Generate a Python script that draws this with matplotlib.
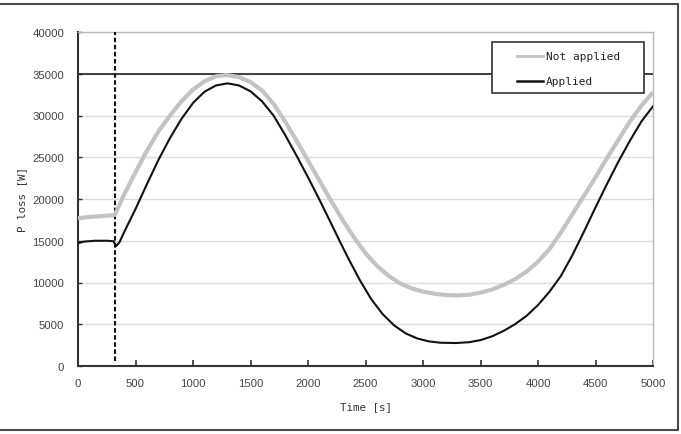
import matplotlib
matplotlib.use("Agg")
import matplotlib.pyplot as plt
from matplotlib.patches import Rectangle
from matplotlib.lines import Line2D

# ---- data ----
t_not = [0, 100, 200, 300, 320, 400, 500, 600, 700, 800, 900, 1000, 1100, 1200,
         1290, 1400, 1500, 1600, 1700, 1800, 1900, 2000, 2100, 2200, 2300, 2400,
         2500, 2600, 2700, 2800, 2900, 3000, 3100, 3200, 3287, 3400, 3500, 3600,
         3700, 3800, 3900, 4000, 4100, 4200, 4300, 4400, 4500, 4600, 4700, 4800,
         4900, 5000]
p_not = [17700, 17850, 17950, 18050, 18100, 20500, 23200, 25800, 28100, 30000,
         31700, 33100, 34100, 34700, 34850, 34600, 34000, 33000, 31400, 29300,
         27000, 24600, 22200, 19800, 17500, 15400, 13500, 12000, 10800, 9900,
         9300, 8900, 8650, 8500, 8450, 8530, 8780, 9160, 9700, 10400, 11300,
         12500, 14000, 16000, 18200, 20400, 22600, 24900, 27100, 29300, 31200,
         32800]

t_app = [0, 50, 150, 250, 310, 330, 360, 400, 500, 600, 700, 800, 900, 1000,
         1100, 1200, 1300, 1400, 1500, 1600, 1700, 1800, 1900, 2000, 2100, 2200,
         2274, 2350, 2450, 2550, 2650, 2750, 2850, 2950, 3050, 3150, 3287, 3400,
         3500, 3600, 3700, 3800, 3900, 4000, 4100, 4200, 4300, 4400, 4500, 4600,
         4700, 4800, 4900, 5000]
p_app = [14700, 14900, 15000, 15000, 14950, 14350, 14800, 16000, 18800, 21800,
         24700, 27300, 29600, 31500, 32850, 33600, 33850, 33600, 32900, 31700,
         30000, 27700, 25200, 22600, 19900, 17100, 15000, 12900, 10300, 8000,
         6200, 4850, 3900, 3300, 2950, 2790, 2750, 2850, 3100, 3550, 4200, 5000,
         6000, 7300, 8900, 10800, 13300, 16100, 19000, 21800, 24500, 27000,
         29300, 31100]

limit_power = 35000
switch_time = 320
x_ticks = [0, 500, 1000, 1500, 2000, 2500, 3000, 3500, 4000, 4500, 5000]
y_ticks = [0, 5000, 10000, 15000, 20000, 25000, 30000, 35000, 40000]
legend_labels = ["Not applied", "Applied"]

W, H = 681, 435
fig = plt.figure(figsize=(W / 100, H / 100), dpi=100)
fig.patch.set_facecolor("white")

# outer frame
fig.patches.append(Rectangle((-0.01, 1 - 431 / H), 678 / W + 0.01, (431 - 5) / H,
                             transform=fig.transFigure, fill=False,
                             edgecolor="#4a4a4a", lw=1.5, zorder=10))

ax = fig.add_axes([78 / W, 1 - 367 / H, (653 - 78) / W, (367 - 33) / H])

ax.set_xlim(0, 5000)
ax.set_ylim(0, 40000)
ax.set_xticks(x_ticks)
ax.set_yticks(y_ticks)
ax.set_xticklabels([str(v) for v in x_ticks])
ax.set_yticklabels([str(v) for v in y_ticks])

ax.yaxis.grid(True, color="#dcdcdc", lw=1.0)
ax.set_axisbelow(True)

for s in ["left", "bottom"]:
    ax.spines[s].set_color("#333333")
    ax.spines[s].set_linewidth(1.5)
for s in ["top", "right"]:
    ax.spines[s].set_color("#b8b8b8")
    ax.spines[s].set_linewidth(1.0)

ax.tick_params(axis="x", direction="in", length=4, width=1.2, color="#333333",
               labelsize=8.2, labelcolor="#444444", pad=9)
ax.tick_params(axis="y", direction="in", length=3, width=1.0, color="#333333",
               labelsize=8.2, labelcolor="#444444", pad=10)
for lab in ax.get_xticklabels() + ax.get_yticklabels():
    lab.set_family("Liberation Sans")

ax.axhline(limit_power, color="#222222", lw=1.2, zorder=2)
ax.plot([switch_time, switch_time], [650, 40000], color="#111111", lw=1.5,
        ls=(0, (2.2, 1.2)), zorder=3)

ax.plot(t_not, p_not, color="#c3c3c3", lw=3.0, solid_capstyle="butt",
        solid_joinstyle="round", zorder=4)
ax.plot(t_app, p_app, color="#111111", lw=1.5, solid_joinstyle="round", zorder=5)

ax.set_xlabel("Time [s]", family="DejaVu Sans Mono", fontsize=7.8, color="#333333")
ax.set_ylabel("P loss [W]", family="DejaVu Sans Mono", fontsize=7.8, color="#333333")
ax.xaxis.set_label_coords(0.5, -0.105)
ax.yaxis.set_label_coords(-0.088, 0.5)

# legend (drawn as a boxed key)
def ax_x(px):
    return (px - 78) / (653 - 78)

def ax_y(py):
    return (367 - py) / (367 - 33)

ax.add_patch(Rectangle((ax_x(492), ax_y(94)), ax_x(644) - ax_x(492),
                       ax_y(43) - ax_y(94), transform=ax.transAxes,
                       facecolor="white", edgecolor="#333333", lw=1.2, zorder=8))
styles = [dict(color="#c3c3c3", lw=2.0), dict(color="#111111", lw=1.8)]
rows_y = [57, 82]
for lbl, st, ry in zip(legend_labels, styles, rows_y):
    ax.add_line(Line2D([ax_x(517), ax_x(543)], [ax_y(ry), ax_y(ry)],
                       transform=ax.transAxes, zorder=9, **st))
    ax.text(ax_x(546), ax_y(ry), lbl, transform=ax.transAxes, va="center",
            ha="left", family="DejaVu Sans Mono", fontsize=8, color="#222222",
            zorder=9)

fig.savefig("out.png", dpi=100, facecolor="white")
